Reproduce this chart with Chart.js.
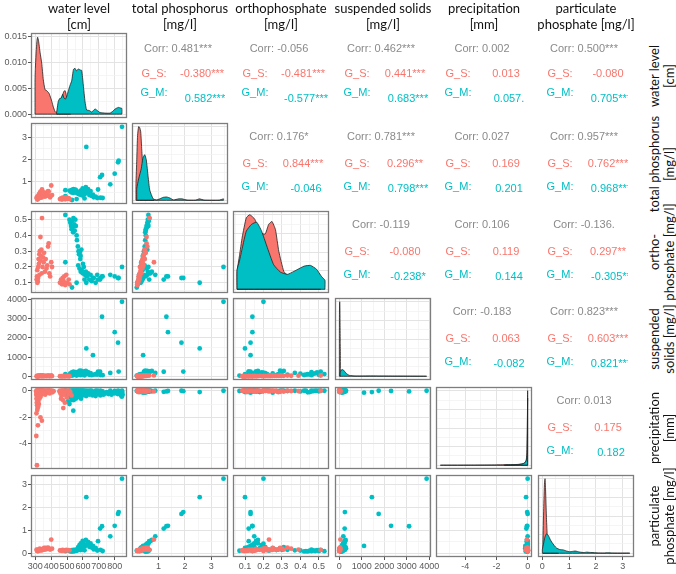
<!DOCTYPE html>
<html><head><meta charset="utf-8">
<script src="https://cdn.jsdelivr.net/npm/chart.js@4/dist/chart.umd.min.js"></script>
<style>
html,body{margin:0;padding:0;background:#fff;}
#wrap{position:relative;width:676px;height:574px;overflow:hidden;background:#fff;}
#wrap canvas{position:absolute;}
.strip{position:absolute;font-family:Lato,"Open Sans",sans-serif;font-size:13px;line-height:16px;color:#111;text-align:center;white-space:nowrap;}
.rstrip{position:absolute;font-family:Lato,"Open Sans",sans-serif;font-size:13px;line-height:15px;color:#111;text-align:center;white-space:nowrap;transform:translate(-50%,-50%) rotate(-90deg);}
.cor{position:absolute;overflow:hidden;font-family:"Liberation Sans",Arial,sans-serif;font-size:11px;}
.cor span{position:absolute;white-space:nowrap;transform:translate(-50%,-50%);line-height:12px;}
</style></head><body><div id="wrap"></div>
<script>
// ---------------- DATA ----------------
const varLabelsTop = [["water level","[cm]"],["total phosphorus","[mg/l]"],["orthophosphate","[mg/l]"],["suspended solids","[mg/l]"],["precipitation","[mm]"],["particulate","phosphate [mg/l]"]];
const varLabelsRight = [["water level","[cm]"],["total phosphorus","[mg/l]"],["ortho-","phosphate [mg/l]"],["suspended","solids [mg/l]"],["precipitation","[mm]"],["particulate","phosphate [mg/l]"]];

// upper-triangle correlation texts, order (1,2)(1,3)(1,4)(1,5)(1,6)(2,3)(2,4)(2,5)(2,6)(3,4)(3,5)(3,6)(4,5)(4,6)(5,6)
const corrAll = ["0.481***","-0.056","0.462***","0.002","0.500***","0.176*","0.781***","0.027","0.957***","-0.119","0.106","-0.136.","-0.183","0.823***","0.013"];
const corrGS  = ["-0.380***","-0.481***","0.441***","0.013","-0.080","0.844***","0.296**","0.169","0.762***","-0.080","0.119","0.297**","0.063","0.603***","0.175"];
const corrGM  = ["0.582***","-0.577***","0.683***","0.057.","0.705***","-0.046","0.798***","0.201","0.968***","-0.238*","0.144","-0.305**","-0.082","0.821***","0.182"];

// G_S observations with chemistry
const S_wl = [308,310,312,315,318,320,322,325,328,330,332,335,338,342,345,348,352,355,360,365,370,375,380,384,388,393,400,405,313,317,326,340, 455,462,468,472,478,482,488,495,500,510,515];
const S_tp = [0.28,0.25,0.33,0.22,0.30,0.40,0.35,0.45,0.50,0.38,0.55,0.42,0.47,0.65,0.36,0.44,0.40,0.52,0.33,0.48,0.37,0.43,0.58,0.55,0.35,0.30,0.83,0.40,0.20,0.26,0.27,0.29, 0.22,0.25,0.20,0.28,0.24,0.27,0.21,0.30,0.23,0.26,0.22];
const S_op = [0.12,0.14,0.18,0.11,0.20,0.25,0.22,0.28,0.30,0.24,0.39,0.27,0.31,0.51,0.20,0.26,0.23,0.29,0.17,0.25,0.19,0.21,0.33,0.35,0.16,0.14,0.23,0.20,0.10,0.13,0.15,0.16, 0.10,0.12,0.09,0.13,0.11,0.14,0.085,0.15,0.10,0.12,0.09];
const S_ss = [10,5,20,8,15,30,12,25,40,18,35,22,28,45,10,20,14,32,9,26,12,17,38,30,11,8,50,15,6,9,12,10, 5,10,4,12,8,15,6,20,7,11,5];
const S_pr = [0,-0.02,0,-0.05,0,-0.01,0,-0.1,0,0,-0.03,0,-0.06,0,0,-0.02,0,-0.08,0,0,-0.04,0,0,-0.02,0,0,-0.05,0,0,0,-0.02,0, 0,-0.03,0,0,-0.1,0,0,-0.05,0,0,-0.02];
const S_pp = [0.16,0.11,0.15,0.11,0.10,0.15,0.13,0.17,0.20,0.14,0.16,0.15,0.16,0.14,0.16,0.18,0.17,0.23,0.16,0.23,0.18,0.22,0.25,0.20,0.19,0.16,0.60,0.20,0.10,0.13,0.12,0.13, 0.12,0.13,0.11,0.15,0.13,0.13,0.125,0.15,0.13,0.14,0.13];
// G_S observations with water level and precipitation only
const S_wlX = [305,306,307,308,309,310,311,312,313,314,315,316,318,320,322,324,326,328,330,333,336,340,345,350,356,362,368,375,382,390,398,408,415,332,341,316,306,310,312,318,307,452,458,465,470,476,481,486,492,498,505,512,520,528,462,474];
const S_prX = [-0.05,-0.3,-0.6,-0.15,-0.9,-0.4,-1.1,-0.2,-0.7,-1.3,-0.1,-0.5,-0.8,-0.25,-1.0,-0.35,-0.6,-0.1,-0.3,-0.45,-0.15,-0.25,-0.05,-0.2,-0.1,-0.3,-0.05,-0.15,-0.08,-0.2,-0.05,-0.12,-0.03,-2.0,-2.25,-2.6,-3.4,-5.6,-1.45,-1.2,-1.7,-0.05,-0.2,-0.4,-0.1,-1.3,-0.3,-0.9,-0.15,-0.5,-0.05,-0.25,-0.1,-0.35,-0.6,-0.7];

// G_M observations with chemistry
const M_wl = [846,720,800,821,621,663,825,772,724,690,708, 489,515,520,525,530,535,540,545,548,552,538,528,555,560, 562,568,572,575,580,585,590,583, 489,531,570,578,586,592,598,605,612,618,625,632,640,648,655,668,680,695,710,600,610,560];
const M_tp = [3.46,1.30,1.36,1.87,2.56,0.42,1.94,0.88,0.27,0.27,1.20, 0.62,0.60,0.58,0.55,0.63,0.56,0.66,0.60,0.52,0.64,0.50,0.52,0.62,0.52, 0.50,0.48,0.45,0.44,0.50,0.41,0.58,0.47, 0.35,0.18,0.48,0.55,0.60,0.40,0.70,0.62,0.45,0.75,0.52,0.66,0.40,0.58,0.36,0.30,0.33,0.65,0.28,0.38,0.25,0.22];
const M_op = [0.20,0.14,0.14,0.13,0.10,0.13,0.13,0.15,0.14,0.15,0.12, 0.53,0.50,0.48,0.46,0.49,0.45,0.51,0.47,0.43,0.50,0.42,0.44,0.46,0.40, 0.37,0.33,0.30,0.28,0.29,0.27,0.31,0.25, 0.23,0.07,0.21,0.19,0.17,0.18,0.16,0.20,0.15,0.17,0.14,0.16,0.12,0.15,0.11,0.13,0.10,0.12,0.13,0.22,0.12,0.10];
const M_ss = [3880,3100,2300,1750,1450,1100,250,180,60,90,240, 120,80,150,60,200,100,250,130,90,170,70,110,220,140, 180,90,240,120,300,60,280,150, 50,40,160,210,230,100,260,190,120,280,140,220,80,170,60,90,110,250,70,110,50,40];
const M_pr = [0,-0.05,-0.02,0,-0.1,-0.15,-0.03,0,-0.05,0,-0.08, 0,-0.02,0,-0.05,0,-0.1,0,-0.02,0,-0.03,0,-0.12,0,-0.05, 0,-0.02,0,-0.08,0,-0.03,0,-0.15, 0,-0.02,0,-0.05,0,-0.1,0,-0.02,0,-0.04,0,-0.06,0,-0.02,0,-0.1,0,-0.03,0,0,-0.05,0];
const M_pp = [3.26,1.18,1.20,1.72,2.45,0.32,1.80,0.74,0.10,0.12,1.08, 0.09,0.10,0.10,0.09,0.14,0.11,0.15,0.13,0.09,0.14,0.08,0.08,0.16,0.12, 0.13,0.15,0.15,0.16,0.21,0.14,0.27,0.22, 0.12,0.11,0.27,0.36,0.43,0.22,0.54,0.42,0.30,0.58,0.38,0.50,0.28,0.43,0.25,0.17,0.23,0.53,0.15,0.16,0.13,0.12];
// G_M observations with water level and precipitation only
const M_wlX = [495,500,505,510,515,520,525,530,535,539,545,550,555,560,565,570,575,580,585,590,595,600,610,620,630,640,650,660,670,680,690,700,710,720,730,740,750,760,770,780,790,800,810,820,830,840,845,850,848,542,548,557,566,574,588];
const M_prX = [-0.1,-0.4,-0.8,-0.2,-1.0,-0.5,-0.3,-0.7,-0.1,-1.5,-0.45,-0.2,-0.6,-0.3,-0.1,-0.4,-0.2,-0.5,-0.15,-0.3,-0.05,-0.35,-0.2,-0.4,-0.1,-0.3,-0.15,-0.35,-0.2,-0.4,-0.1,-0.25,-0.35,-0.15,-0.3,-0.2,-0.1,-0.25,-0.15,-0.3,-0.1,-0.2,-0.05,-0.25,-0.15,-0.35,-0.45,-0.3,-0.1,-0.7,-0.25,-0.5,-0.15,-0.4,-0.6];

// density curves
const S_wlDx = [298,300,305,310,314,320,330,340,350,361,372,386,397,405,413,424,432,442,452,462,470,480,488,495,505,515,522];
const S_wlDy = [0.0066,0.0088,0.0120,0.0141,0.0148,0.0141,0.0118,0.0098,0.0066,0.0047,0.0045,0.0040,0.0031,0.0023,0.0014,0.0005,0.0003,0.0008,0.0018,0.0028,0.0035,0.0044,0.0045,0.0036,0.0016,0.0004,0.0001];
const M_wlDx = [434,440,444,453,463,472,480,490,500,508,518,529,540,550,560,571,581,592,602,613,623,640,655,676,690,708,740,771,790,803,815,824,835,845];
const M_wlDy = [0.0003,0.0016,0.0024,0.0030,0.0031,0.0038,0.0031,0.0029,0.0036,0.0045,0.0055,0.0064,0.0086,0.0088,0.0083,0.0087,0.0085,0.0084,0.0056,0.0024,0.0008,0.0007,0.0004,0.0010,0.0007,0.0003,0.0002,0.0002,0.0006,0.0010,0.0012,0.0013,0.0012,0.0011];
const S_tpDx = [0.15,0.18,0.21,0.25,0.29,0.33,0.37,0.41,0.45,0.50,0.58,0.66,0.75,0.83];
const S_tpDy = [0.23,0.55,0.88,1.00,0.99,0.93,0.68,0.45,0.36,0.23,0.05,0.01,0.005,0.003];
const M_tpDx = [0.18,0.25,0.35,0.41,0.48,0.54,0.61,0.67,0.80,0.93,1.05,1.18,1.31,1.44,1.57,1.76,1.89,2.08,2.40,2.55,2.72,3.00,3.30,3.46];
const M_tpDy = [0.16,0.29,0.43,0.57,0.62,0.55,0.32,0.14,0.02,0.005,0.02,0.04,0.045,0.03,0.005,0.02,0.02,0.003,0.002,0.02,0.003,0.001,0.002,0.02];
const S_opDx = [0.057,0.07,0.085,0.107,0.126,0.153,0.181,0.209,0.228,0.246,0.265,0.283,0.31,0.33,0.37,0.42,0.46,0.51];
const S_opDy = [0.24,0.45,0.70,0.96,1.00,0.94,0.76,0.74,0.87,0.91,0.80,0.51,0.24,0.19,0.15,0.12,0.09,0.08];
const M_opDx = [0.057,0.07,0.085,0.107,0.135,0.163,0.19,0.218,0.255,0.292,0.33,0.365,0.42,0.455,0.487,0.515,0.533];
const M_opDy = [0.26,0.38,0.55,0.78,0.87,0.90,0.78,0.58,0.33,0.23,0.20,0.24,0.31,0.32,0.27,0.17,0.12];
const S_ssDx = [4,8,14,20,28,36,44,50];
const S_ssDy = [0.55,0.85,0.98,1.00,0.92,0.70,0.45,0.30];
const M_ssDx = [40,80,130,180,250,320,450,700,1100,1450,1750,2300,3100,3880];
const M_ssDy = [0.05,0.08,0.09,0.085,0.06,0.035,0.012,0.004,0.004,0.005,0.004,0.003,0.002,0.001];
const S_prDx = [-5.6,-4.5,-3.4,-2.6,-2.0,-1.5,-1.0,-0.6,-0.35,-0.2,-0.1,-0.05,-0.02,0];
const S_prDy = [0.002,0.002,0.003,0.004,0.005,0.006,0.008,0.012,0.02,0.03,0.06,0.15,0.45,1.0];
const M_prDx = [-1.5,-1.0,-0.7,-0.45,-0.3,-0.15,-0.08,-0.04,-0.02,0];
const M_prDy = [0.003,0.006,0.008,0.012,0.02,0.04,0.07,0.15,0.45,0.9];
const S_ppDx = [0.02,0.05,0.08,0.10,0.12,0.15,0.18,0.22,0.27,0.32,0.40,0.50,0.60];
const S_ppDy = [0.15,0.60,0.95,1.00,0.85,0.50,0.25,0.10,0.04,0.02,0.01,0.008,0.01];
const M_ppDx = [0.0,0.05,0.09,0.15,0.22,0.30,0.35,0.45,0.53,0.65,0.78,0.90,1.03,1.12,1.22,1.30,1.41,1.55,1.66,1.75,1.85,2.04,2.30,2.45,2.60,3.00,3.26];
const M_ppDy = [0.05,0.14,0.21,0.26,0.24,0.18,0.15,0.10,0.07,0.05,0.045,0.03,0.02,0.025,0.03,0.025,0.015,0.01,0.015,0.012,0.01,0.005,0.003,0.006,0.003,0.002,0.003];

// tick values
const wlTicks = [300,400,500,600,700,800], wlMinor = [350,450,550,650,750,850];
const tpTicks = [1,2,3], tpMinor = [0.5,1.5,2.5,3.5];
const opTicks = [0.1,0.2,0.3,0.4,0.5], opMinor = [0.05,0.15,0.25,0.35,0.45,0.55];
const ssTicks = [0,1000,2000,3000,4000], ssMinor = [500,1500,2500,3500];
const prTicks = [-4,-2,0], prMinor = [-5,-3,-1];
const ppTicks = [0,1,2,3], ppMinor = [0.5,1.5,2.5];
const densTicks = [0,0.005,0.010,0.015], densMinor = [0.0025,0.0075,0.0125];
const densLabels = ["0.000","0.005","0.010","0.015"];

// ---------------- BUILD ----------------
const COL_S = '#F8766D', COL_M = '#00BFC4';
const VARS = ['wl','tp','op','ss','pr','pp'];
const RANGE = {wl:[272.5,877.5], tp:[0.0,3.63], op:[0.035,0.555], ss:[-190,4075], pr:[-5.88,0.28], pp:[-0.163,3.42]};
const MAJ = {wl:wlTicks, tp:tpTicks, op:opTicks, ss:ssTicks, pr:prTicks, pp:ppTicks};
const MIN = {wl:wlMinor, tp:tpMinor, op:opMinor, ss:ssMinor, pr:prMinor, pp:ppMinor};
const FMT = v => String(v);
const nulls = n => new Array(n).fill(null);
const GS = {wl:S_wl.concat(S_wlX), pr:S_pr.concat(S_prX), tp:S_tp.concat(nulls(S_wlX.length)), op:S_op.concat(nulls(S_wlX.length)), ss:S_ss.concat(nulls(S_wlX.length)), pp:S_pp.concat(nulls(S_wlX.length))};
const GM = {wl:M_wl.concat(M_wlX), pr:M_pr.concat(M_prX), tp:M_tp.concat(nulls(M_wlX.length)), op:M_op.concat(nulls(M_wlX.length)), ss:M_ss.concat(nulls(M_wlX.length)), pp:M_pp.concat(nulls(M_wlX.length))};
const DENS = {
  wl:{S:[S_wlDx,S_wlDy], M:[M_wlDx,M_wlDy]}, tp:{S:[S_tpDx,S_tpDy], M:[M_tpDx,M_tpDy]},
  op:{S:[S_opDx,S_opDy], M:[M_opDx,M_opDy]}, ss:{S:[S_ssDx,S_ssDy], M:[M_ssDx,M_ssDy]},
  pr:{S:[S_prDx,S_prDy], M:[M_prDx,M_prDy]}, pp:{S:[S_ppDx,S_ppDy], M:[M_ppDx,M_ppDy]}
};

const PL = [31,132,233,335,436,538], PW = 96;
const PT = [33,123,211,298,387,475], PH = [85,81,82,82,82,82];
const MG = 14;
const wrap = document.getElementById('wrap');

function pairs(G, xk, yk){
  const out = [];
  const n = Math.min(G[xk].length, G[yk].length);
  for (let i=0;i<n;i++){ const x=G[xk][i], y=G[yk][i]; if (x!=null && y!=null) out.push({x:x,y:y}); }
  return out;
}
function curve(xs, ys){
  const n = Math.min(xs.length, ys.length);
  const pts = [{x:xs[0],y:0}];
  for (let i=0;i<n;i++) pts.push({x:xs[i],y:ys[i]});
  pts.push({x:xs[n-1],y:0});
  return pts;
}
function baseline(xs){ return [{x:xs[0],y:0},{x:xs[xs.length-1],y:0}]; }
function scaleCfg(axis, range, major, minor, fmt, show, size){
  return {
    type:'linear', min:range[0], max:range[1], bounds:'data', display:true,
    afterBuildTicks: s => {
      s.ticks = major.map(v=>({value:v,mj:true})).concat(minor.map(v=>({value:v,mj:false}))).sort((a,b)=>a.value-b.value);
    },
    afterFit: s => {
      if (axis==='x') s.height = size; else s.width = size;
      s.paddingLeft = 0; s.paddingRight = 0; s.paddingTop = 0; s.paddingBottom = 0;
    },
    grid: {
      color: c => (c.tick && c.tick.mj) ? '#E3E3E3' : '#F1F1F1',
      lineWidth: c => (c.tick && c.tick.mj) ? 1 : 0.7,
      drawTicks: show, tickLength: 3,
      tickColor: c => (c.tick && c.tick.mj) ? '#555' : 'rgba(0,0,0,0)'
    },
    border: {display:false},
    ticks: {
      display: show, autoSkip:false, maxRotation:0, minRotation:0, padding:1,
      color:'#5a5a5a', font:{size:9, family:'"Liberation Sans", Arial, sans-serif'},
      callback: (v,i,t) => (t[i] && t[i].mj) ? fmt(v, i, t) : ''
    }
  };
}
const frame = {id:'frame', afterDatasetsDraw(chart){
  const a = chart.chartArea, ctx = chart.ctx;
  ctx.save(); ctx.strokeStyle = '#7d7d7d'; ctx.lineWidth = 1.3;
  ctx.strokeRect(a.left+0.5, a.top+0.5, a.right-a.left-1, a.bottom-a.top-1);
  ctx.restore();
}};

function makePanel(r, c){
  const left = c===0 ? 0 : PL[c]-MG;
  const top = PT[r]-MG;
  const right = PL[c]+PW+MG;
  const bottom = r===5 ? 574 : PT[r]+PH[r]+MG;
  const cv = document.createElement('canvas');
  cv.width = right-left; cv.height = bottom-top;
  cv.style.left = left+'px'; cv.style.top = top+'px';
  cv.style.width = (right-left)+'px'; cv.style.height = (bottom-top)+'px';
  wrap.appendChild(cv);
  const pad = {left: c===0?0:MG, right:MG, top:MG, bottom: r===5?0:MG};
  const yW = c===0 ? PL[0] : 0;
  const xH = r===5 ? 574-(PT[5]+PH[5]) : 0;
  const xv = VARS[c], yv = VARS[r];
  const xScale = scaleCfg('x', RANGE[xv], MAJ[xv], MIN[xv], FMT, r===5, xH);
  let yScale, datasets, type;
  if (r===c){
    type = 'line';
    const d = DENS[xv];
    if (r===0) yScale = scaleCfg('y', [-0.00074,0.0156], densTicks, densMinor, (v,i,t)=>densLabels[densTicks.indexOf(v)], c===0, yW);
    else yScale = scaleCfg('y', [-0.05,1.05], [0,0.25,0.5,0.75,1.0], [0.125,0.375,0.625,0.875], FMT, false, yW);
    const outline = {borderColor:'#222', borderWidth:0.8, pointRadius:0, tension:0.15};
    datasets = [
      Object.assign({data:baseline(d.S[0]), fill:false}, outline),
      Object.assign({data:baseline(d.M[0]), fill:false}, outline),
      Object.assign({data:curve(d.M[0],d.M[1]), fill:'origin', backgroundColor:COL_M}, outline),
      Object.assign({data:curve(d.S[0],d.S[1]), fill:'origin', backgroundColor:COL_S}, outline)
    ];
  } else {
    type = 'scatter';
    yScale = scaleCfg('y', RANGE[yv], MAJ[yv], MIN[yv], FMT, c===0, yW);
    datasets = [
      {data:pairs(GS,xv,yv), backgroundColor:COL_S, pointRadius:2.4, pointBorderWidth:0, borderWidth:0},
      {data:pairs(GM,xv,yv), backgroundColor:COL_M, pointRadius:2.4, pointBorderWidth:0, borderWidth:0}
    ];
  }
  new Chart(cv, {
    type: type,
    data: {datasets: datasets},
    options: {
      responsive:false, animation:false, devicePixelRatio:1, events:[],
      layout:{padding:pad},
      plugins:{legend:{display:false}, tooltip:{enabled:false}},
      scales:{x:xScale, y:yScale}
    },
    plugins:[frame]
  });
}

for (let r=0;r<6;r++) for (let c=0;c<=r;c++) makePanel(r,c);

// top strips
for (let c=0;c<6;c++){
  const d = document.createElement('div'); d.className='strip';
  d.innerHTML = varLabelsTop[c][0] + '<br>' + varLabelsTop[c][1];
  d.style.left = (PL[c]+PW/2)+'px'; d.style.top = '0px'; d.style.transform = 'translateX(-50%)';
  wrap.appendChild(d);
}
// right strips
for (let r=0;r<6;r++){
  const d = document.createElement('div'); d.className='rstrip';
  d.innerHTML = varLabelsRight[r][0] + '<br>' + varLabelsRight[r][1];
  d.style.left = '662px'; d.style.top = (PT[r]+PH[r]/2)+'px';
  wrap.appendChild(d);
}
// correlation panels
let k = 0;
for (let r=0;r<6;r++) for (let c=r+1;c<6;c++){
  const box = document.createElement('div'); box.className='cor';
  const w = c===5 ? 90 : PW;
  box.style.left = PL[c]+'px'; box.style.top = PT[r]+'px'; box.style.width = w+'px'; box.style.height = PH[r]+'px';
  const yC = r===0 ? 15 : 13, yS = r===0 ? 40 : 39.5, yML = r===0 ? 59 : 63, yMV = 65;
  const items = [
    ['Corr: '+corrAll[k], PW/2-2, yC, '#8a8a8a'],
    ['G_S:', 22, yS, COL_S], [corrGS[k], 70, yS, COL_S],
    ['G_M:', 22, yML, COL_M], [corrGM[k], 73, yMV, COL_M]
  ];
  items.forEach(it => {
    const s = document.createElement('span'); s.textContent = it[0];
    s.style.left = it[1]+'px'; s.style.top = it[2]+'px'; s.style.color = it[3];
    box.appendChild(s);
  });
  wrap.appendChild(box);
  k++;
}
</script></body></html>
